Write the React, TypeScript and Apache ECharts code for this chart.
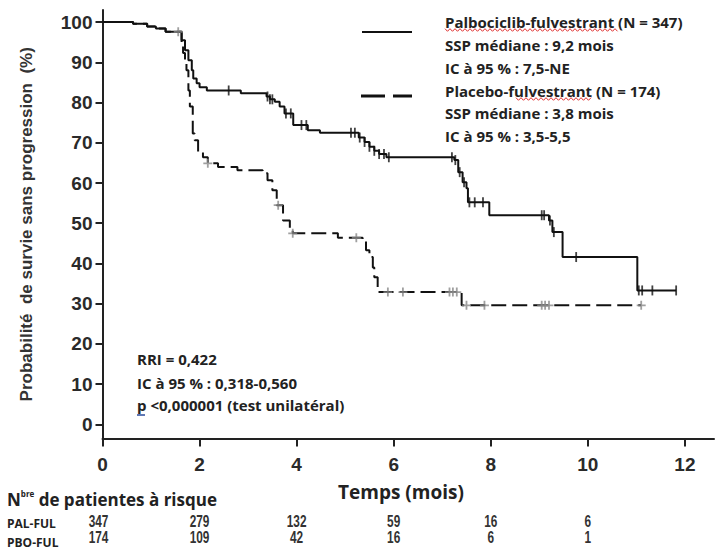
import React, { useEffect, useRef } from "react";
import * as echarts from "echarts";

// ---------- data ----------
const xTicks = [0, 2, 4, 6, 8, 10, 12];
const yTicks = [0, 10, 20, 30, 40, 50, 60, 70, 80, 90, 100];

const palTimes = [0, 0.63, 0.92, 1.1, 1.3, 1.63, 1.7, 1.77, 1.84, 1.87, 1.94, 2.0, 2.15, 2.85, 3.38, 3.45, 3.55, 3.65, 3.75, 3.93, 4.23, 4.48, 5.28, 5.4, 5.5, 5.6, 5.7, 5.85, 7.25, 7.33, 7.42, 7.5, 7.53, 7.97, 9.2, 9.27, 9.48, 11.02, 11.82];
const palSurv = [100, 99.6, 98.9, 98.4, 97.6, 95.5, 93, 90.5, 88, 86, 84.8, 83.8, 83, 82.3, 81.5, 80.8, 80.2, 79, 77.3, 74.4, 73.1, 72.5, 71.3, 70.2, 69, 68, 67.2, 66.4, 65.7, 62.7, 60.2, 58.7, 55.2, 52, 50.7, 47.8, 41.6, 33.3, 33.3];

const pboTimes = [0, 0.63, 0.92, 1.1, 1.3, 1.63, 1.66, 1.7, 1.73, 1.77, 1.8, 1.86, 1.9, 1.97, 2.07, 2.17, 2.38, 2.78, 3.3, 3.4, 3.5, 3.59, 3.72, 3.86, 3.92, 4.85, 5.36, 5.43, 5.5, 5.57, 5.6, 5.67, 7.4, 11.1];
const pboSurv = [100, 99.6, 98.9, 98.4, 97.6, 95, 92.3, 90.5, 88, 83, 79, 72.3, 70.6, 67.7, 66.4, 64.9, 64, 63.2, 62.4, 60.7, 58.2, 54.5, 50.7, 48.3, 47.5, 46.4, 45.8, 43.3, 41.6, 39, 36.6, 32.9, 29.6, 29.6];

const palCensorTimes = [2.6, 3.4, 3.45, 3.5, 3.78, 3.88, 4.1, 4.2, 5.12, 5.2, 5.3, 5.4, 5.5, 5.6, 5.7, 5.8, 5.9, 7.2, 7.27, 7.36, 7.45, 7.56, 7.67, 7.84, 9.05, 9.1, 9.22, 9.3, 9.76, 11.05, 11.12, 11.33, 11.82];
const pboCensorTimes = [1.56, 2.17, 3.62, 3.92, 5.23, 5.88, 6.19, 7.15, 7.22, 7.3, 7.5, 7.87, 9.05, 9.12, 9.2, 11.1];

const riskTimes = [0, 2, 4, 6, 8, 10];
const palAtRisk = [347, 279, 132, 59, 16, 6];
const pboAtRisk = [174, 109, 42, 16, 6, 1];
const riskRows = ["PAL-FUL", "PBO-FUL"];

const legendPal = ["Palbociclib-fulvestrant (N = 347)", "SSP médiane : 9,2 mois", "IC à 95 % : 7,5-NE"];
const legendPbo = ["Placebo-fulvestrant (N = 174)", "SSP médiane : 3,8 mois", "IC à 95 % : 3,5-5,5"];
const statsLines = ["RRI = 0,422", "IC à 95 % : 0,318-0,560", "p <0,000001 (test unilatéral)"];

// ---------- helpers ----------
function stepValue(times: number[], surv: number[], t: number) {
  let v = surv[0];
  for (let i = 0; i < times.length; i++) if (times[i] <= t) v = surv[i];
  return v;
}
function zigzag(x0: number, x1: number, y: number) {
  const pts: number[][] = [];
  let i = 0;
  for (let x = x0; x <= x1; x += 2.5, i++) pts.push([x, y + (i % 2 ? 1.3 : -1.3)]);
  return pts;
}

const AXIS_FONT = "'Liberation Sans', Arial, sans-serif";
const TEXT_FONT = "'Open Sans', 'Noto Sans', sans-serif";

const GRID_LEFT = 102.5;
const GRID_RIGHT = 13;

function txt(text: string, x: number, y: number, size = 15, weight: any = "bold", family = TEXT_FONT, fill = "#222") {
  return {
    type: "text",
    x,
    y,
    silent: true,
    style: { text, fill, fontSize: size, fontWeight: weight, fontFamily: family, verticalAlign: "middle", align: "left" },
  };
}

export default function App() {
  const ref = useRef<HTMLDivElement>(null);
  useEffect(() => {
    const chart = echarts.init(ref.current!, null, { renderer: "svg" });
    const palLine = palTimes.map((t, i) => [t, palSurv[i]]);
    const pboLine = pboTimes.map((t, i) => [t, pboSurv[i]]);
    const palCens = palCensorTimes.map((t) => [t, stepValue(palTimes, palSurv, t)]);
    const pboCens = pboCensorTimes.map((t) => [t, stepValue(pboTimes, pboSurv, t)]);

    const legendRowsY = [22, 45, 68, 91, 113, 136];
    const graphics: any[] = [
      { type: "line", silent: true, shape: { x1: 362, y1: 32, x2: 412, y2: 32 }, style: { stroke: "#111", lineWidth: 2 } },
      { type: "line", silent: true, shape: { x1: 361, y1: 96, x2: 412, y2: 96 }, style: { stroke: "#111", lineWidth: 3, lineDash: [24, 8] } },
      ...legendPal.map((s, i) => txt(s, 445, legendRowsY[i])),
      ...legendPbo.map((s, i) => txt(s, 445, legendRowsY[i + 3])),
      { type: "polyline", silent: true, shape: { points: zigzag(445, 618, 30) }, style: { stroke: "#e03030", lineWidth: 1, fill: null } },
      { type: "polyline", silent: true, shape: { points: zigzag(516, 593, 99) }, style: { stroke: "#e03030", lineWidth: 1, fill: null } },
      ...statsLines.map((s, i) => txt(s, 137, [359, 383, 405][i])),
      { type: "line", silent: true, shape: { x1: 137, y1: 415, x2: 145, y2: 415 }, style: { stroke: "#2b4a9a", lineWidth: 1.5 } },
      txt("Temps (mois)", 338, 492, 19, 700),
      {
        type: "text",
        x: 7,
        y: 499,
        silent: true,
        style: {
          text: "{n|N}{s|bre}{t| de patientes à risque}",
          verticalAlign: "middle",
          rich: {
            n: { fontSize: 17, fontWeight: 700, fontFamily: TEXT_FONT, fill: "#222", lineHeight: 20 },
            s: { fontSize: 8, fontWeight: 700, fontFamily: TEXT_FONT, fill: "#222", lineHeight: 20, verticalAlign: "top" },
            t: { fontSize: 17, fontWeight: 700, fontFamily: TEXT_FONT, fill: "#222", lineHeight: 20 },
          },
        },
      },
      txt(riskRows[0], 7, 523, 12, 700, TEXT_FONT),
      txt(riskRows[1], 7, 542, 12, 700, TEXT_FONT),
    ];

    const option: any = {
      animation: false,
      backgroundColor: "#fff",
      grid: [{ left: GRID_LEFT, right: GRID_RIGHT, top: 10, bottom: 115.5 }],
      xAxis: [
        {
          type: "value",
          min: 0,
          max: 12.6,
          axisLine: { onZero: false, lineStyle: { color: "#222", width: 2 } },
          axisTick: { show: true, length: 8, customValues: xTicks, lineStyle: { color: "#222", width: 2 } },
          axisLabel: { customValues: xTicks, margin: 16, fontSize: 19, fontWeight: "bold", fontFamily: AXIS_FONT, color: "#2a2a2a" },
          splitLine: { show: false },
        },
      ],
      yAxis: [
        {
          type: "value",
          min: -3.5,
          max: 103,
          name: "Probabilité  de survie sans progression  (%)",
          nameLocation: "middle",
          nameGap: 68,
          nameRotate: 90,
          nameTextStyle: { fontSize: 17, fontWeight: "bold", fontFamily: AXIS_FONT, color: "#333" },
          axisLine: { show: true, onZero: false, lineStyle: { color: "#222", width: 2 } },
          axisTick: { show: true, length: 7, customValues: yTicks, lineStyle: { color: "#222", width: 2 } },
          axisLabel: { customValues: yTicks, margin: 10, fontSize: 19, fontWeight: "bold", fontFamily: AXIS_FONT, color: "#2a2a2a" },
          splitLine: { show: false },
        },
      ],
      series: [
        {
          type: "line",
          name: "Placebo-fulvestrant",
          data: pboLine,
          step: "end",
          showSymbol: false,
          lineStyle: { color: "#111", width: 2, type: [15, 6] },
          z: 3,
        },
        {
          type: "line",
          name: "Palbociclib-fulvestrant",
          data: palLine,
          step: "end",
          showSymbol: false,
          lineStyle: { color: "#111", width: 2 },
          z: 4,
        },
        {
          type: "scatter",
          data: palCens,
          symbol: "rect",
          symbolSize: [1.8, 10],
          itemStyle: { color: "#111" },
          z: 5,
        },
        {
          type: "scatter",
          data: pboCens,
          symbol: "path://M3.2,0H4.8V8H3.2ZM0,3.2H8V4.8H0Z",
          symbolSize: 9,
          itemStyle: { color: "#888" },
          z: 5,
        },
      ],
      graphic: graphics,
    };
    chart.setOption(option);

    // at-risk numbers, placed on the time axis through the chart's own scale
    const numberTexts: any[] = [];
    [palAtRisk, pboAtRisk].forEach((arr, row) => {
      arr.forEach((n, i) => {
        const px = chart.convertToPixel({ xAxisIndex: 0 }, riskTimes[i]) as number;
        numberTexts.push({
          type: "text",
          x: px - (i === 0 ? 4 : 0),
          y: row === 0 ? 521 : 537,
          scaleX: 0.74,
          silent: true,
          style: { text: String(n), fill: "#333", fontSize: 16, fontWeight: "bold", fontFamily: AXIS_FONT, align: "center", verticalAlign: "middle" },
        });
      });
    });
    chart.setOption({ graphic: graphics.concat(numberTexts) });
    return () => chart.dispose();
  }, []);
  return <div ref={ref} style={{ position: "fixed", left: 0, top: 0, width: 727, height: 554, background: "#fff" }} />;
}
